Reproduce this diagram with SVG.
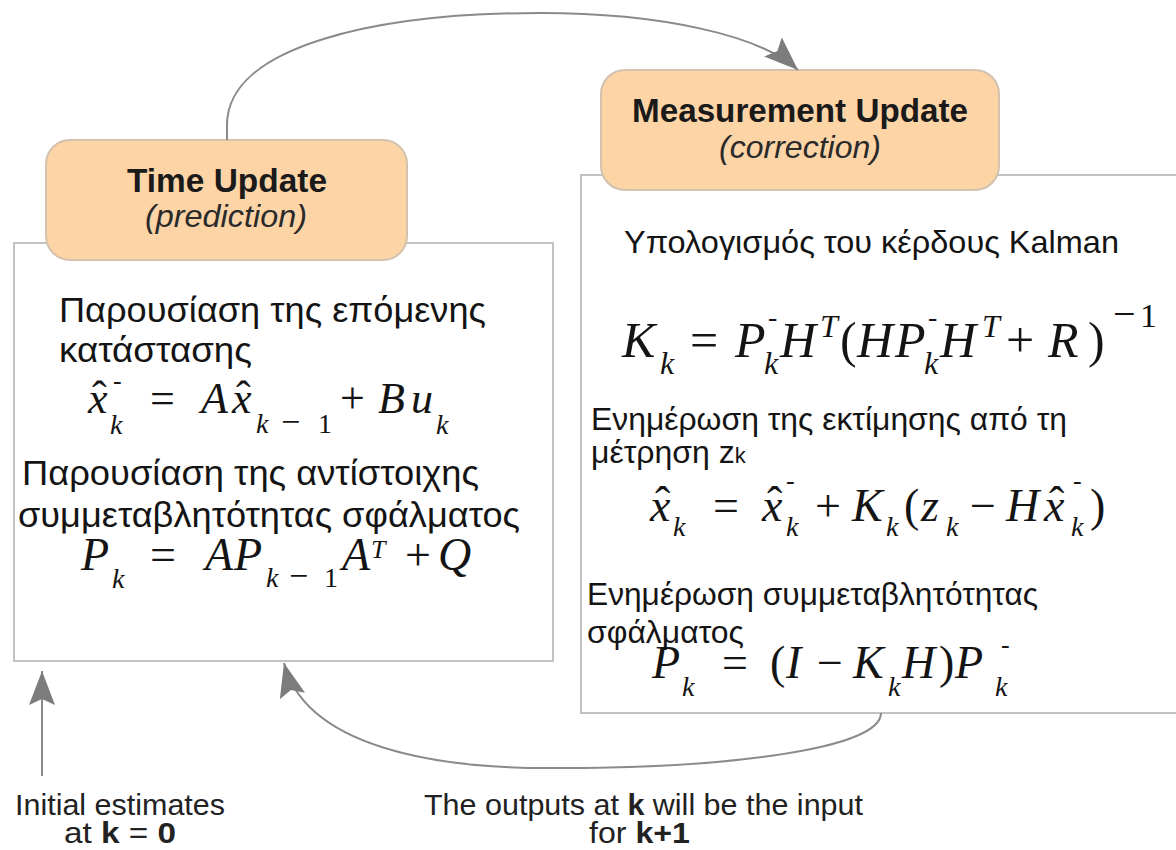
<svg xmlns="http://www.w3.org/2000/svg" width="1176" height="850" viewBox="0 0 1176 850">
<style>
.box{fill:#ffffff;stroke:#c2c2c2;stroke-width:2}
.tab{fill:#fdd4a6;stroke:#d2c2ae;stroke-width:2}
.conn{fill:none;stroke:#8a8a8a;stroke-width:2}
.hdr{font-family:"Liberation Sans",Arial,sans-serif;font-weight:bold;font-size:33px;fill:#1a1a1a;text-anchor:middle}
.hsub{font-family:"Liberation Sans",Arial,sans-serif;font-style:italic;font-size:32px;fill:#2a2a2a;text-anchor:middle}
.gr{font-family:"Liberation Sans",Arial,sans-serif;font-size:35px;fill:#141414}
.grr{font-family:"Liberation Sans",Arial,sans-serif;font-size:32px;fill:#141414}
.mth{font-family:"Liberation Serif","Times New Roman",serif;fill:#141414}
.i{font-style:italic}
.ft{font-family:"Liberation Sans",Arial,sans-serif;font-size:30px;fill:#222222}
.b{font-weight:bold}
</style>
<defs>
<marker id="ah" markerUnits="userSpaceOnUse" markerWidth="36" markerHeight="28" refX="34" refY="13" orient="auto">
<path d="M0,0 L34,13 L0,26 L6,13 z" fill="#7c7c7c"/>
</marker>
</defs>

<g id="time-update">
<rect class="box" x="14" y="243" width="539" height="418"/>
<rect class="tab" x="46" y="140" width="361" height="120" rx="24" ry="24"/>
<text class="hdr" x="227" y="192" textLength="200" lengthAdjust="spacingAndGlyphs">Time Update</text>
<text class="hsub" x="226" y="227" textLength="162" lengthAdjust="spacingAndGlyphs">(prediction)</text>
<text class="gr" x="59" y="322" textLength="427" lengthAdjust="spacingAndGlyphs">Παρουσίαση της επόμενης</text>
<text class="gr" x="59" y="362" textLength="193" lengthAdjust="spacingAndGlyphs">κατάστασης</text>
<text class="mth" font-size="44"><tspan class="i" x="88" y="413">x</tspan><tspan x="92" y="411">ˆ</tspan><tspan x="113" y="389" font-size="26">-</tspan><tspan class="i" x="110" y="434" font-size="28">k</tspan><tspan x="150" y="413">=</tspan><tspan class="i" x="201" y="413">A</tspan><tspan class="i" x="232" y="413">x</tspan><tspan x="236" y="411">ˆ</tspan><tspan class="i" x="256" y="433" font-size="28">k</tspan><tspan x="281" y="433" font-size="34">−</tspan><tspan x="318" y="433" font-size="28">1</tspan><tspan x="340" y="413">+</tspan><tspan class="i" x="378" y="413">B</tspan><tspan class="i" x="411" y="413">u</tspan><tspan class="i" x="436" y="434" font-size="28">k</tspan></text>
<text class="gr" x="22" y="485" textLength="457" lengthAdjust="spacingAndGlyphs">Παρουσίαση της αντίστοιχης</text>
<text class="gr" x="18" y="527" textLength="502" lengthAdjust="spacingAndGlyphs">συμμεταβλητότητας σφάλματος</text>
<text class="mth" font-size="46"><tspan class="i" x="81" y="570">P</tspan><tspan class="i" x="112" y="588" font-size="28">k</tspan><tspan x="150" y="570">=</tspan><tspan class="i" x="205" y="570">A</tspan><tspan class="i" x="234" y="570">P</tspan><tspan class="i" x="266" y="587" font-size="28">k</tspan><tspan x="289" y="587" font-size="34">−</tspan><tspan x="324" y="587" font-size="28">1</tspan><tspan class="i" x="342" y="570">A</tspan><tspan class="i" x="371" y="558" font-size="26">T</tspan><tspan x="405" y="570">+</tspan><tspan class="i" x="438" y="570">Q</tspan></text>
</g>

<g id="measurement-update">
<rect class="box" x="581" y="175" width="620" height="538"/>
<rect class="tab" x="601" y="70" width="398" height="120" rx="24" ry="24"/>
<text class="hdr" x="800" y="122" textLength="336" lengthAdjust="spacingAndGlyphs">Measurement Update</text>
<text class="hsub" x="800" y="158" textLength="162" lengthAdjust="spacingAndGlyphs">(correction)</text>
<text class="grr" x="624" y="253" textLength="495" lengthAdjust="spacingAndGlyphs">Υπολογισμός του κέρδους Kalman</text>
<text class="mth" font-size="50"><tspan class="i" x="622" y="357">K</tspan><tspan class="i" x="660" y="374" font-size="32">k</tspan><tspan x="690" y="357">=</tspan><tspan class="i" x="735" y="357">P</tspan><tspan x="768" y="326" font-size="28">-</tspan><tspan class="i" x="764" y="374" font-size="32">k</tspan><tspan class="i" x="780" y="357">H</tspan><tspan class="i" x="820" y="337" font-size="32">T</tspan><tspan x="840" y="357">(</tspan><tspan class="i" x="857" y="357">H</tspan><tspan class="i" x="895" y="357">P</tspan><tspan x="928" y="326" font-size="28">-</tspan><tspan class="i" x="924" y="374" font-size="32">k</tspan><tspan class="i" x="940" y="357">H</tspan><tspan class="i" x="982" y="337" font-size="32">T</tspan><tspan x="1006" y="357">+</tspan><tspan class="i" x="1048" y="357">R</tspan><tspan x="1088" y="357">)</tspan><tspan x="1113" y="327" font-size="40">−</tspan><tspan x="1140" y="327" font-size="34">1</tspan></text>
<text class="grr" x="591" y="430" textLength="476" lengthAdjust="spacingAndGlyphs">Ενημέρωση της εκτίμησης από τη</text>
<text class="grr" x="591" y="463">μέτρηση z<tspan font-size="22">k</tspan></text>
<text class="mth" font-size="46"><tspan class="i" x="650" y="521">x</tspan><tspan x="655" y="519">ˆ</tspan><tspan class="i" x="673" y="536" font-size="28">k</tspan><tspan x="713" y="521">=</tspan><tspan class="i" x="762" y="521">x</tspan><tspan x="767" y="519">ˆ</tspan><tspan x="786" y="489" font-size="26">-</tspan><tspan class="i" x="786" y="536" font-size="28">k</tspan><tspan x="815" y="521">+</tspan><tspan class="i" x="852" y="521">K</tspan><tspan class="i" x="886" y="536" font-size="28">k</tspan><tspan x="904" y="521">(</tspan><tspan class="i" x="921" y="521">z</tspan><tspan class="i" x="946" y="536" font-size="28">k</tspan><tspan x="970" y="521">−</tspan><tspan class="i" x="1006" y="521">H</tspan><tspan class="i" x="1044" y="521">x</tspan><tspan x="1049" y="519">ˆ</tspan><tspan x="1073" y="489" font-size="26">-</tspan><tspan class="i" x="1071" y="536" font-size="28">k</tspan><tspan x="1090" y="521">)</tspan></text>
<text class="grr" x="587" y="605" textLength="451" lengthAdjust="spacingAndGlyphs">Ενημέρωση συμμεταβλητότητας</text>
<text class="grr" x="587" y="643" textLength="157" lengthAdjust="spacingAndGlyphs">σφάλματος</text>
<text class="mth" font-size="46"><tspan class="i" x="652" y="678">P</tspan><tspan class="i" x="682" y="696" font-size="28">k</tspan><tspan x="722" y="678">=</tspan><tspan x="770" y="678">(</tspan><tspan class="i" x="786" y="678">I</tspan><tspan x="817" y="678">−</tspan><tspan class="i" x="853" y="678">K</tspan><tspan class="i" x="888" y="696" font-size="28">k</tspan><tspan class="i" x="902" y="678">H</tspan><tspan x="939" y="678">)</tspan><tspan class="i" x="955" y="678">P</tspan><tspan x="1001" y="653" font-size="26">-</tspan><tspan class="i" x="995" y="696" font-size="28">k</tspan></text>
</g>

<g id="connectors">
<path class="conn" d="M227,140 L227,125 C227,45 380,13 540,13 C660,13 760,35 798,70" marker-end="url(#ah)"/>
<path class="conn" d="M881,713 C881,750 720,768 563,768 C430,770 305,745 284,663" marker-end="url(#ah)"/>
<path class="conn" d="M42,776 L42,671" marker-end="url(#ah)"/>
</g>

<g id="labels">
<text class="ft" x="15" y="815" textLength="210" lengthAdjust="spacingAndGlyphs">Initial estimates</text>
<text class="ft" x="64" y="843" textLength="112" lengthAdjust="spacingAndGlyphs">at <tspan class="b">k</tspan> = <tspan class="b">0</tspan></text>
<text class="ft" x="424" y="815" textLength="439" lengthAdjust="spacingAndGlyphs">The outputs at <tspan class="b">k</tspan>  will be the input</text>
<text class="ft" x="589" y="843" textLength="101" lengthAdjust="spacingAndGlyphs">for <tspan class="b">k+1</tspan></text>
</g>
</svg>
